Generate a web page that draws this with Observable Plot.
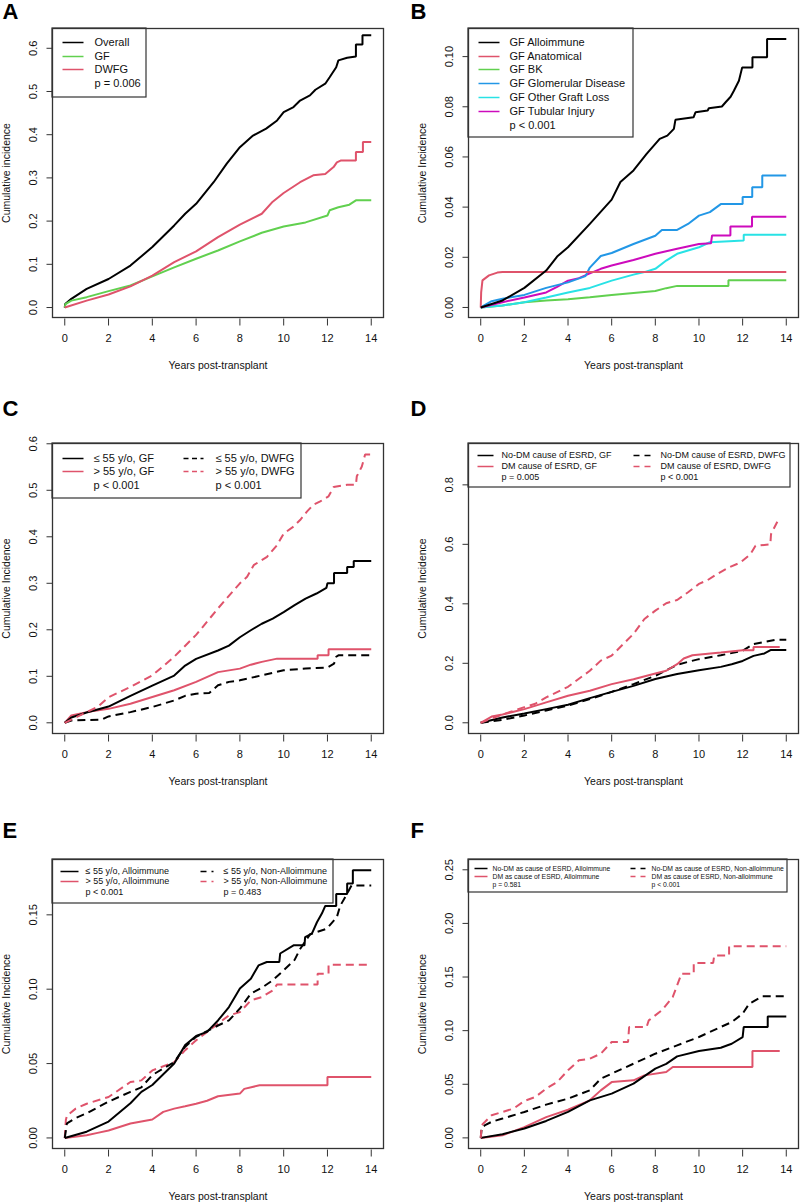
<!DOCTYPE html>
<html><head><meta charset="utf-8">
<script src="https://cdn.jsdelivr.net/npm/d3@7"></script>
<script src="https://cdn.jsdelivr.net/npm/@observablehq/plot@0.6"></script>
<style>body{margin:0;background:#fff} #c{position:relative;width:800px;height:1204px;background:#fff;overflow:hidden}</style>
</head><body><div id="c"></div><script>
// ---------- colours (R 4 palette) ----------
const BLACK = "#000000", RED = "#DF536B", GREEN = "#61D04F", BLUE = "#2297E6", CYAN = "#28E2E5", MAGENTA = "#CD0BBC";

// ---------- axis ticks ----------
const xTicks = [0, 2, 4, 6, 8, 10, 12, 14];
const yTicksA = [0, 0.1, 0.2, 0.3, 0.4, 0.5, 0.6];
const yTicksB = [0, 0.02, 0.04, 0.06, 0.08, 0.10];
const yTicksC = [0, 0.1, 0.2, 0.3, 0.4, 0.5, 0.6];
const yTicksD = [0, 0.2, 0.4, 0.6, 0.8];
const yTicksE = [0, 0.05, 0.10, 0.15];
const yTicksF = [0, 0.05, 0.10, 0.15, 0.20, 0.25];

// ---------- panel A: [years, cumulative incidence] ----------
const A_overall = [[0,0],[0.02,0.008],[0.3,0.02],[1,0.043],[2,0.066],[3,0.097],[4,0.14],[5,0.19],[5.5,0.217],[6,0.24],[6.8,0.29],[7.4,0.333],[8,0.371],[8.6,0.398],[9.2,0.414],[9.7,0.433],[10,0.452],[10.45,0.464],[10.75,0.479],[11.2,0.491],[11.45,0.504],[11.9,0.518],[12.1,0.533],[12.4,0.556],[12.5,0.572],[12.9,0.578],[13.3,0.581],[13.3,0.609],[13.6,0.609],[13.6,0.63],[14,0.63]];
const A_gf = [[0,0],[0.03,0.008],[0.3,0.016],[1,0.024],[2,0.038],[3,0.051],[4,0.072],[5,0.093],[6,0.113],[7,0.132],[8,0.153],[9,0.173],[10,0.1875],[11,0.197],[12,0.213],[12.1,0.225],[12.5,0.232],[13,0.238],[13.3,0.248],[14,0.248]];
const A_dwfg = [[0,0],[1,0.016],[2,0.030],[3,0.049],[4,0.074],[5,0.105],[6,0.130],[7,0.163],[8,0.192],[9,0.217],[9.5,0.245],[10,0.265],[10.75,0.29],[11.35,0.306],[11.9,0.309],[12.28,0.325],[12.43,0.336],[12.6,0.34],[13.3,0.34],[13.3,0.36],[13.62,0.36],[13.62,0.383],[14,0.383]];
const A_labels = ["Overall", "GF", "DWFG", "p = 0.006"];

// ---------- panel B ----------
const B_allo = [[0,0],[1,0.0028],[2,0.0078],[3,0.0147],[3.5,0.0203],[4,0.024],[5,0.0333],[6,0.043],[6.4,0.050],[7,0.0546],[7.6,0.0612],[8.2,0.0672],[8.55,0.0685],[8.85,0.0712],[8.92,0.0748],[9.75,0.0758],[9.84,0.0778],[10.4,0.0785],[10.45,0.0794],[11.05,0.0801],[11.22,0.0818],[11.45,0.084],[11.6,0.0864],[11.83,0.0904],[11.98,0.0957],[12.45,0.0957],[12.45,0.0997],[13.12,0.0997],[13.12,0.107],[14,0.107]];
const B_anat = [[0,0],[0.02,0.006],[0.08,0.0108],[0.38,0.0128],[0.76,0.0139],[1,0.0141],[14,0.0141]];
const B_bk = [[0,0],[1,0.0008],[2,0.0021],[3,0.0028],[4,0.0033],[5,0.0041],[6,0.005],[7,0.0058],[8,0.0066],[8.5,0.0077],[9,0.0086],[11.35,0.0086],[11.35,0.0108],[14,0.0108]];
const B_glom = [[0,0],[0.5,0.0025],[1,0.0035],[2,0.005],[3,0.0078],[4,0.010],[4.8,0.0125],[5,0.0159],[5.5,0.0205],[6,0.0217],[7,0.0253],[8,0.0286],[8.3,0.0309],[9,0.0309],[9.5,0.0333],[10,0.0366],[10.5,0.038],[11,0.0412],[12,0.0412],[12,0.044],[12.44,0.044],[12.44,0.0479],[12.9,0.0479],[12.9,0.0526],[14,0.0526]];
const B_other = [[0,0],[1,0.0008],[2,0.0021],[3,0.004],[4,0.006],[5,0.0078],[6,0.0107],[7,0.0131],[7.5,0.0141],[8,0.0154],[8.5,0.0187],[9,0.0214],[10,0.024],[10.5,0.026],[12.05,0.0267],[12.05,0.029],[14,0.029]];
const B_tub = [[0,0],[1,0.0021],[2,0.004],[3,0.006],[3.5,0.0082],[4,0.0107],[4.5,0.0117],[5,0.0136],[5.5,0.0154],[6,0.0167],[7,0.0189],[8,0.0214],[9,0.0234],[10,0.0253],[10.55,0.0256],[10.6,0.0287],[11.44,0.0287],[11.44,0.0323],[12.43,0.0323],[12.43,0.0362],[14,0.0362]];
const B_labels = ["GF Alloimmune", "GF Anatomical", "GF BK", "GF Glomerular Disease", "GF Other Graft Loss", "GF Tubular Injury", "p < 0.001"];

// ---------- panel C ----------
const C_le55_gf = [[0,0],[0.3,0.0115],[1,0.022],[2,0.035],[3,0.058],[4,0.080],[5,0.1015],[5.5,0.123],[6,0.1375],[7,0.1555],[7.5,0.166],[8,0.184],[8.5,0.199],[9,0.213],[9.5,0.224],[10,0.238],[10.5,0.253],[11,0.267],[11.5,0.278],[11.95,0.29],[12,0.30],[12.3,0.30],[12.3,0.322],[12.9,0.322],[12.9,0.335],[13.2,0.335],[13.2,0.348],[14,0.348]];
const C_gt55_gf = [[0,0],[0.3,0.0158],[1,0.023],[2,0.030],[3,0.041],[4,0.0555],[5,0.070],[6,0.088],[7,0.109],[8,0.1165],[8.5,0.125],[9,0.131],[9.7,0.138],[11.55,0.138],[11.55,0.1455],[12.05,0.1455],[12.05,0.158],[14,0.158]];
const C_le55_dwfg = [[0,0],[0.3,0.005],[1.7,0.007],[2,0.0137],[3,0.023],[4,0.034],[5,0.048],[5.5,0.058],[6,0.0626],[6.6,0.064],[7,0.0806],[7.5,0.088],[8,0.0914],[9,0.102],[10,0.113],[11,0.1166],[12,0.119],[12.3,0.127],[12.4,0.142],[12.5,0.145],[14,0.145]];
const C_gt55_dwfg = [[0,0],[1,0.023],[1.5,0.034],[2,0.055],[3,0.077],[4,0.102],[5,0.142],[6,0.189],[7,0.246],[8,0.300],[8.33,0.314],[8.63,0.339],[9.24,0.357],[9.7,0.382],[10,0.407],[10.45,0.422],[10.75,0.436],[11.06,0.454],[11.36,0.469],[11.67,0.476],[12.05,0.487],[12.28,0.507],[12.9,0.512],[13.3,0.512],[13.34,0.530],[13.57,0.551],[13.72,0.577],[14,0.577]];
const C_labels = ["\u2264 55 y/o, GF", "> 55 y/o, GF", "p < 0.001", "\u2264 55 y/o, DWFG", "> 55 y/o, DWFG", "p < 0.001"];

// ---------- panel D ----------
const D_nodm_gf = [[0,0],[1,0.018],[2,0.031],[3,0.046],[4,0.0605],[5,0.083],[6,0.104],[7,0.124],[8,0.147],[9,0.164],[10,0.177],[11,0.188],[11.5,0.197],[12,0.208],[12.5,0.225],[13,0.233],[13.3,0.245],[14,0.245]];
const D_dm_gf = [[0,0],[0.5,0.021],[1,0.028],[2,0.046],[3,0.0686],[4,0.091],[5,0.108],[6,0.130],[7,0.1467],[8,0.166],[8.5,0.175],[9,0.197],[9.3,0.216],[9.7,0.227],[11,0.236],[12,0.244],[12.5,0.244],[12.5,0.255],[13.7,0.255]];
const D_nodm_dwfg = [[0,0],[1,0.010],[2,0.0246],[3,0.0415],[4,0.058],[5,0.0795],[6,0.104],[7,0.130],[8,0.158],[9,0.195],[9.5,0.205],[10,0.214],[11,0.227],[12,0.242],[12.5,0.265],[13.5,0.279],[14,0.279]];
const D_dm_dwfg = [[0,0],[1,0.028],[2,0.0526],[2.5,0.064],[3,0.0855],[4,0.121],[5,0.175],[5.5,0.209],[6,0.226],[7,0.299],[7.5,0.349],[8,0.377],[8.5,0.402],[9,0.413],[9.5,0.439],[10,0.467],[10.4,0.48],[10.83,0.50],[11.36,0.522],[11.9,0.539],[12.36,0.567],[12.59,0.595],[13.27,0.60],[13.3,0.634],[13.65,0.685],[13.7,0.685]];
const D_labels = ["No-DM cause of ESRD, GF", "DM cause of ESRD, GF", "p = 0.005", "No-DM cause of ESRD, DWFG", "DM cause of ESRD, DWFG", "p < 0.001"];

// ---------- panel E ----------
const E_le55_allo = [[0,0],[1,0.0042],[2,0.011],[3,0.0233],[3.5,0.031],[4,0.0356],[5,0.050],[5.5,0.0624],[6,0.0685],[6.5,0.0713],[7,0.079],[7.5,0.088],[8,0.1005],[8.5,0.107],[8.85,0.116],[9.23,0.1183],[9.8,0.1183],[9.84,0.124],[10.45,0.1295],[10.95,0.1295],[10.98,0.135],[11.29,0.1373],[11.52,0.145],[11.75,0.151],[11.9,0.156],[12.4,0.156],[12.4,0.164],[12.9,0.164],[12.9,0.171],[13.16,0.171],[13.16,0.180],[14,0.180]];
const E_gt55_allo = [[0,0],[1,0.0018],[1.5,0.0034],[2,0.005],[3,0.0097],[4,0.0124],[4.5,0.0175],[5,0.0197],[5.5,0.0213],[6,0.023],[6.5,0.025],[7,0.028],[8,0.0298],[8.2,0.033],[8.9,0.0354],[12,0.0354],[12,0.041],[14,0.041]];
const E_le55_non = [[0,0],[0.1,0.0098],[0.5,0.0134],[1,0.0166],[2,0.0244],[3,0.031],[3.5,0.034],[4,0.0423],[5,0.051],[5.5,0.0613],[6,0.068],[7,0.0756],[7.5,0.079],[8,0.087],[8.5,0.097],[9,0.101],[9.5,0.106],[10,0.1127],[10.5,0.1197],[10.75,0.127],[11.21,0.137],[11.97,0.1407],[12.43,0.1485],[12.58,0.156],[12.89,0.164],[13.1,0.1698],[14,0.1698]];
const E_gt55_non = [[0,0],[0.05,0.012],[0.1,0.015],[0.5,0.0197],[1,0.023],[2,0.0275],[3,0.0376],[3.5,0.0387],[4,0.0454],[5,0.051],[5.5,0.059],[6,0.0656],[7,0.0768],[7.5,0.0824],[8,0.0846],[8.5,0.0925],[9,0.0947],[9.5,0.0992],[9.7,0.1032],[11.55,0.1032],[11.55,0.1104],[12.05,0.1104],[12.05,0.1164],[14,0.1164]];
const E_labels = ["\u2264 55 y/o, Alloimmune", "> 55 y/o, Alloimmune", "p < 0.001", "\u2264 55 y/o, Non-Alloimmune", "> 55 y/o, Non-Alloimmune", "p = 0.483"];

// ---------- panel F ----------
const F_nodm_allo = [[0,0],[1,0.0034],[2,0.0087],[3,0.0158],[4,0.0242],[5,0.035],[6,0.0413],[7,0.0506],[8,0.0646],[8.5,0.069],[9,0.076],[10,0.081],[11,0.0841],[11.5,0.0878],[12,0.094],[12.05,0.1034],[13.15,0.1034],[13.15,0.1133],[14,0.1133]];
const F_dm_allo = [[0,0],[1,0.0025],[2,0.010],[3,0.0194],[4,0.0262],[5,0.035],[5.5,0.0443],[6,0.052],[7,0.0537],[7.5,0.0583],[8.5,0.0614],[8.8,0.0661],[12.45,0.0661],[12.45,0.081],[13.7,0.081]];
const F_nodm_non = [[0,0],[0.05,0.01],[0.2,0.0118],[0.5,0.015],[1,0.018],[2,0.0242],[3,0.031],[4,0.0366],[5,0.0444],[5.5,0.0552],[6,0.0599],[7,0.0692],[8,0.0785],[9,0.0863],[10,0.0941],[11,0.1034],[11.5,0.108],[12,0.1158],[12.3,0.1251],[12.9,0.132],[14,0.132]];
const F_dm_non = [[0,0],[0.05,0.012],[0.2,0.015],[0.5,0.0211],[1,0.0242],[1.5,0.0273],[2,0.0344],[2.5,0.0381],[3,0.0459],[3.5,0.0521],[4,0.063],[4.5,0.0723],[5,0.0739],[5.5,0.0785],[6,0.0894],[6.75,0.0894],[6.8,0.1034],[7.6,0.1034],[7.7,0.1096],[8.3,0.119],[8.8,0.1314],[9.2,0.1531],[9.76,0.1531],[9.76,0.1632],[10.65,0.1632],[10.7,0.170],[11.38,0.170],[11.38,0.1788],[14,0.1788]];
const F_labels = ["No-DM as cause of ESRD, Alloimmune", "DM as cause of ESRD, Alloimmune", "p = 0.581", "No-DM as cause of ESRD, Non-alloimmune", "DM as cause of ESRD, Non-alloimmune", "p < 0.001"];

// ---------- drawing ----------
const XDOM = [-0.56, 14.56];
const FONT = "'Liberation Sans', Arial, Helvetica, sans-serif";

function panel(cfg) {
  const {left, top, H, ml, mr, mt, mb, ydom, yTicks, yDigits, ylab, letter, lines, legend} = cfg;
  const W = 400;
  const pw = W - ml - mr, ph = H - mt - mb;
  const dx = X => XDOM[0] + (X - left - ml) * (XDOM[1] - XDOM[0]) / pw;
  const dy = Y => ydom[1] - (Y - top - mt) * (ydom[1] - ydom[0]) / ph;
  const fb = top + mt + ph, fl = left + ml;
  const marks = [];
  for (const s of lines) {
    marks.push(Plot.line(s.data, {x: d => d[0], y: d => d[1], stroke: s.color, strokeWidth: 2,
      strokeDasharray: s.dash ? "8,5" : "none", strokeLinejoin: "miter", strokeLinecap: "butt"}));
  }
  const L = legend;
  marks.push(Plot.rect([0], {x1: () => dx(L.box[0]), x2: () => dx(L.box[2]), y1: () => dy(L.box[1]), y2: () => dy(L.box[3]),
    fill: "white", stroke: "#333", strokeWidth: 1.2}));
  const solidItems = L.items.filter(d => d.color && !d.dash);
  const dashItems = L.items.filter(d => d.color && d.dash);
  const linkOpts = {x1: d => dx(L.cols[d.c][0]), x2: d => dx(L.cols[d.c][1]), y1: d => dy(L.rows[d.r]), y2: d => dy(L.rows[d.r]),
    stroke: d => d.color, strokeWidth: 1.5};
  marks.push(Plot.link(solidItems, linkOpts));
  marks.push(Plot.link(dashItems, {...linkOpts, strokeDasharray: L.dash || "5,4"}));
  marks.push(Plot.text(L.items, {x: d => dx(L.cols[d.c][2]), y: d => dy(L.rows[d.r]), text: d => d.label,
    textAnchor: "start", fontSize: L.fs, fill: "#111"}));
  // frame
  marks.push(Plot.frame({stroke: "#333", strokeWidth: 1.3}));
  // x axis
  marks.push(Plot.link(xTicks, {x1: d => d, x2: d => d, y1: () => dy(fb + 1), y2: () => dy(fb + 8), stroke: "#333", strokeWidth: 1}));
  marks.push(Plot.text(xTicks, {x: d => d, y: () => dy(fb + 21), text: d => String(d), fontSize: 11, fill: "#111"}));
  marks.push(Plot.text(["Years post-transplant"], {x: () => 7, y: () => dy(fb + 48), text: d => d, fontSize: 10.5, fill: "#111"}));
  // y axis
  marks.push(Plot.link(yTicks, {y1: d => d, y2: d => d, x1: () => dx(fl - 6), x2: () => dx(fl), stroke: "#333", strokeWidth: 1}));
  marks.push(Plot.text(yTicks, {x: () => dx(fl - 19), y: d => d, text: d => d.toFixed(yDigits), rotate: -90, fontSize: 11, fill: "#111"}));
  marks.push(Plot.text([ylab], {x: () => dx(fl - 46), y: () => (ydom[0] + ydom[1]) / 2, text: d => d, rotate: -90, fontSize: 10.5, fill: "#111"}));
  // panel letter
  marks.push(Plot.text([letter.t], {x: () => dx(letter.x), y: () => dy(letter.y), text: d => d, textAnchor: "start",
    fontSize: 22, fontWeight: "bold", fill: "#000"}));

  const svg = Plot.plot({
    width: W, height: H, marginLeft: ml, marginRight: mr, marginTop: mt, marginBottom: mb,
    x: {domain: XDOM, axis: null},
    y: {domain: ydom, axis: null},
    style: {fontFamily: FONT, background: "white", overflow: "visible"},
    marks
  });
  svg.style.position = "absolute";
  svg.style.left = left + "px";
  svg.style.top = top + "px";
  svg.style.maxWidth = "none";
  document.getElementById("c").appendChild(svg);
}

const LCOL = {left: 0, ml: 52, mr: 17};
const RCOL = {left: 400, ml: 68, mr: 2};
const ROW1 = {top: 0, H: 395, mt: 28, mb: 78};
const ROW2 = {top: 395, H: 405, mt: 48, mb: 67};
const ROW3 = {top: 800, H: 404, mt: 59, mb: 56};

function items3(labels, colors) {
  // two-column legends: col 0 rows 0..2, col 1 rows 0..2
  return [
    {c: 0, r: 0, label: labels[0], color: colors[0]},
    {c: 0, r: 1, label: labels[1], color: colors[1]},
    {c: 0, r: 2, label: labels[2]},
    {c: 1, r: 0, label: labels[3], color: colors[0], dash: true},
    {c: 1, r: 1, label: labels[4], color: colors[1], dash: true},
    {c: 1, r: 2, label: labels[5]}
  ];
}

// A
panel({...LCOL, ...ROW1, ydom: [-0.0231, 0.6458], yTicks: yTicksA, yDigits: 1, ylab: "Cumulative incidence",
  letter: {t: "A", x: 2, y: 11},
  lines: [{data: A_overall, color: BLACK}, {data: A_gf, color: GREEN}, {data: A_dwfg, color: RED}],
  legend: {box: [52, 28, 146, 97], fs: 11, cols: [[62, 83, 94]], rows: [42, 56, 69, 83],
    items: [{c: 0, r: 0, label: A_labels[0], color: BLACK}, {c: 0, r: 1, label: A_labels[1], color: GREEN},
            {c: 0, r: 2, label: A_labels[2], color: RED}, {c: 0, r: 3, label: A_labels[3]}]}
});
// B
panel({...RCOL, ...ROW1, ydom: [-0.004, 0.1112], yTicks: yTicksB, yDigits: 2, ylab: "Cumulative Incidence",
  letter: {t: "B", x: 410, y: 11},
  lines: [{data: B_bk, color: GREEN}, {data: B_other, color: CYAN}, {data: B_tub, color: MAGENTA},
          {data: B_glom, color: BLUE}, {data: B_anat, color: RED}, {data: B_allo, color: BLACK}],
  legend: {box: [468, 28, 633, 137], fs: 11, cols: [[478, 499, 509]], rows: [42, 56, 69, 83, 97, 111, 125],
    items: [BLACK, RED, GREEN, BLUE, CYAN, MAGENTA, null].map((col, i) => ({c: 0, r: i, label: B_labels[i], color: col || undefined}))}
});
// C
panel({...LCOL, ...ROW2, ydom: [-0.023, 0.6006], yTicks: yTicksC, yDigits: 1, ylab: "Cumulative Incidence",
  letter: {t: "C", x: 2, y: 408},
  lines: [{data: C_le55_dwfg, color: BLACK, dash: true}, {data: C_gt55_gf, color: RED}, {data: C_le55_gf, color: BLACK},
          {data: C_gt55_dwfg, color: RED, dash: true}],
  legend: {box: [52, 443, 301, 498], fs: 11, dash: "5,3.5", cols: [[62, 83, 93], [183, 203, 215]], rows: [458, 471, 485],
    items: items3(C_labels, [BLACK, RED])}
});
// D
panel({...RCOL, ...ROW2, ydom: [-0.036, 0.939], yTicks: yTicksD, yDigits: 1, ylab: "Cumulative Incidence",
  letter: {t: "D", x: 410, y: 408},
  lines: [{data: D_nodm_dwfg, color: BLACK, dash: true}, {data: D_nodm_gf, color: BLACK}, {data: D_dm_gf, color: RED},
          {data: D_dm_dwfg, color: RED, dash: true}],
  legend: {box: [468, 443, 790, 487], fs: 9, dash: "6,5", cols: [[477, 493, 501], [633, 650, 660]], rows: [455, 466, 477],
    items: items3(D_labels, [BLACK, RED])}
});
// E
panel({...LCOL, ...ROW3, ydom: [-0.0071, 0.1872], yTicks: yTicksE, yDigits: 2, ylab: "Cumulative Incidence",
  letter: {t: "E", x: 2, y: 830},
  lines: [{data: E_gt55_allo, color: RED}, {data: E_gt55_non, color: RED, dash: true}, {data: E_le55_non, color: BLACK, dash: true},
          {data: E_le55_allo, color: BLACK}],
  legend: {box: [52, 859, 333, 903], fs: 9, dash: "6,5", cols: [[60, 78, 85], [200, 213, 223]], rows: [871, 881, 892],
    items: items3(E_labels, [BLACK, RED])}
});
// F
panel({...RCOL, ...ROW3, ydom: [-0.0099, 0.2596], yTicks: yTicksF, yDigits: 2, ylab: "Cumulative Incidence",
  letter: {t: "F", x: 410, y: 830},
  lines: [{data: F_dm_allo, color: RED}, {data: F_nodm_allo, color: BLACK}, {data: F_nodm_non, color: BLACK, dash: true},
          {data: F_dm_non, color: RED, dash: true}],
  legend: {box: [468, 859, 787, 892], fs: 6.8, dash: "5,5", cols: [[474, 487, 492], [630, 645, 651]], rows: [868, 876, 884],
    items: items3(F_labels, [BLACK, RED])}
});
</script></body></html>
